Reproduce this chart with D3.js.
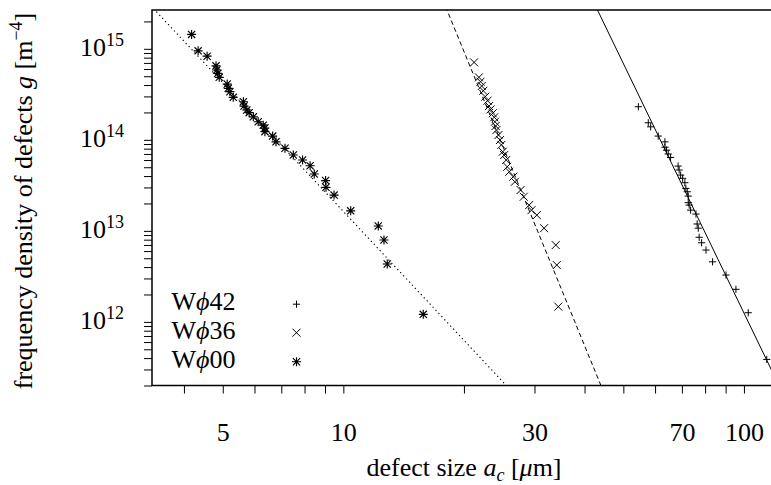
<!DOCTYPE html>
<html>
<head>
<meta charset="utf-8">
<script src="https://cdn.jsdelivr.net/npm/d3@7"></script>
<style>
  body { margin: 0; background: #fff; }
  svg text { font-family: "Liberation Serif", "Times New Roman", serif; fill: #000; }
</style>
</head>
<body>
<svg id="chart"></svg>
<script>
// measured points [defect size um, frequency density m^-4]
const w42 = [
  [54.5, 2.31e14], [57.7, 1.54e14], [58.5, 1.39e14], [61.1, 1.10e14], [63.5, 9.5e13],
  [63.5, 8.3e13], [64.1, 7.7e13], [64.7, 7.0e13], [65.6, 6.4e13], [68.5, 5.15e13],
  [68.9, 4.66e13], [69.5, 4.1e13], [70.3, 3.78e13], [71.2, 3.38e13], [71.6, 2.93e13],
  [72.2, 2.69e13], [72.6, 2.41e13], [72.6, 2.04e13], [73.0, 1.92e13], [73.6, 1.69e13],
  [75.9, 1.53e13], [76.4, 1.19e13], [76.9, 1.07e13], [77.3, 8.5e12], [78.4, 7.4e12],
  [80.4, 6.15e12], [83.5, 4.57e12], [90.2, 3.27e12], [95.5, 2.28e12], [102.5, 1.26e12],
  [114.0, 3.87e11]
];
const w36 = [
  [21.2, 7.1e14], [21.8, 4.86e14], [22.0, 4.35e14], [22.15, 3.9e14], [22.35, 3.46e14],
  [22.6, 2.98e14], [22.9, 2.69e14], [23.1, 2.35e14], [23.3, 2.16e14], [23.6, 1.96e14],
  [23.8, 1.77e14], [23.9, 1.58e14], [24.0, 1.42e14], [24.1, 1.28e14], [24.4, 1.13e14],
  [24.6, 9.95e13], [24.8, 8.8e13], [25.0, 7.4e13], [25.2, 6.8e13], [25.5, 6.0e13],
  [25.65, 5.06e13], [25.95, 4.46e13], [26.55, 3.93e13], [26.8, 3.46e13], [27.7, 2.81e13],
  [28.2, 2.37e13], [29.1, 1.92e13], [29.5, 1.69e13], [30.4, 1.49e13], [31.7, 1.07e13],
  [33.9, 6.98e12], [34.1, 4.21e12], [34.4, 1.47e12]
];
const w00 = [
  [4.18, 1.44e15], [4.34, 9.5e14], [4.57, 8.3e14], [4.81, 6.5e14], [4.83, 5.85e14],
  [4.86, 5.38e14], [4.90, 4.86e14], [5.13, 4.1e14], [5.16, 3.68e14], [5.21, 3.38e14],
  [5.31, 2.93e14], [5.63, 2.62e14], [5.65, 2.35e14], [5.74, 2.13e14], [5.82, 1.99e14],
  [5.96, 1.79e14], [6.13, 1.58e14], [6.31, 1.45e14], [6.37, 1.35e14], [6.37, 1.23e14],
  [6.66, 1.10e14], [6.79, 9.5e13], [7.15, 8.07e13], [7.50, 6.81e13], [7.91, 6.0e13],
  [8.26, 5.19e13], [8.46, 4.21e13], [9.03, 3.57e13], [9.05, 3.01e13], [9.48, 2.47e13],
  [10.43, 1.66e13], [12.22, 1.13e13], [12.63, 7.94e12], [12.87, 4.32e12], [15.83, 1.21e12]
];

// power-law fits, two end points each
const fit42 = [[42.5, 3.03e15], [120, 2.38e11]];
const fit36 = [[18.0, 2.9e15], [44.5, 1.75e11]];
const fit00 = [[3.3, 3.0e15], [26.0, 1.83e11]];

const xLabelled = [5, 10, 30, 70, 100];
const yExponents = [12, 13, 14, 15];
const legendNames = ["42", "36", "00"];

const width = 771, height = 485;
const plot = { left: 152, top: 10, bottom: 385.5, right: 772 };
const fontSize = 26;
const serif = "Liberation Serif, Times New Roman, serif";

const svg = d3.select("#chart")
    .attr("width", width)
    .attr("height", height)
    .attr("font-family", serif);

const x = d3.scaleLog().domain([3.329, 117.5]).range([plot.left, plot.right]);
const y = d3.scaleLog().domain([2.0e11, 2.67e15]).range([plot.bottom, plot.top]);

svg.append("defs").append("clipPath").attr("id", "clip")
    .append("rect")
    .attr("x", plot.left).attr("y", plot.top)
    .attr("width", plot.right - plot.left).attr("height", plot.bottom - plot.top);

// x axis
const xAxis = svg.append("g")
    .attr("transform", `translate(0,${plot.bottom})`)
    .call(d3.axisBottom(x)
        .tickValues(x.ticks())
        .tickSize(8)
        .tickPadding(29)
        .tickFormat(d => xLabelled.includes(Math.round(d)) ? String(Math.round(d)) : ""));
xAxis.attr("font-family", serif);
xAxis.select(".domain").remove();
xAxis.selectAll(".tick line").attr("stroke", "#000");
xAxis.selectAll(".tick text").attr("font-size", fontSize).attr("font-family", serif);

// y axis
const isMajor = d => {
    const e = Math.log10(d);
    return Math.abs(e - Math.round(e)) < 1e-6 && yExponents.includes(Math.round(e));
};
const yAxis = svg.append("g")
    .attr("transform", `translate(${plot.left},0)`)
    .call(d3.axisLeft(y)
        .tickValues(y.ticks())
        .tickSize(8)
        .tickPadding(20)
        .tickFormat(""));
yAxis.attr("font-family", serif);
yAxis.select(".domain").remove();
yAxis.selectAll(".tick line").attr("stroke", "#000");
yAxis.selectAll(".tick text")
    .attr("font-family", serif)
    .attr("font-size", fontSize)
    .attr("dy", "0.27em")
    .each(function (d) {
        if (!isMajor(d)) return;
        const t = d3.select(this);
        t.append("tspan").text("10");
        t.append("tspan").attr("dy", -10).attr("font-size", 18).text(Math.round(Math.log10(d)));
    });

// frame
svg.append("path")
    .attr("d", `M${plot.right + 2},${plot.top}H${plot.left}V${plot.bottom}H${plot.right + 2}`)
    .attr("fill", "none")
    .attr("stroke", "#000")
    .attr("stroke-width", 1.5);

// fit lines
const line = d3.line().x(d => x(d[0])).y(d => y(d[1]));
const fitG = svg.append("g").attr("clip-path", "url(#clip)");
fitG.append("path").datum(fit00).attr("d", line)
    .attr("fill", "none").attr("stroke", "#000").attr("stroke-width", 1.1)
    .attr("stroke-dasharray", "1.3,3");
fitG.append("path").datum(fit36).attr("d", line)
    .attr("fill", "none").attr("stroke", "#000").attr("stroke-width", 1)
    .attr("stroke-dasharray", "4.5,3");
fitG.append("path").datum(fit42).attr("d", line)
    .attr("fill", "none").attr("stroke", "#000").attr("stroke-width", 1);

// point symbols
function symbol(kind, s) {
    const plus = `M${-s},0H${s}M0,${-s}V${s}`;
    const cross = `M${-s},${-s}L${s},${s}M${-s},${s}L${s},${-s}`;
    if (kind === "plus") return plus;
    if (kind === "cross") return cross;
    const c = s * 0.8;
    return `M${-s},0H${s}M0,${-s}V${s}M${-c},${-c}L${c},${c}M${-c},${c}L${c},${-c}`;
}

const series = [
    { data: w42, kind: "plus", size: 3.6, sw: 1 },
    { data: w36, kind: "cross", size: 4, sw: 1 },
    { data: w00, kind: "star", size: 4.5, sw: 1.15 }
];

series.forEach(s => {
    svg.append("g").selectAll("path")
        .data(s.data)
        .enter().append("path")
        .attr("transform", d => `translate(${x(d[0])},${y(d[1])})`)
        .attr("d", symbol(s.kind, s.size))
        .attr("fill", "none")
        .attr("stroke", "#000")
        .attr("stroke-width", s.sw);
});

// legend
const legendRows = [310, 338.5, 367.5];
series.forEach((s, i) => {
    const t = svg.append("text")
        .attr("x", 171.5)
        .attr("y", legendRows[i])
        .attr("font-size", fontSize);
    t.append("tspan").text("W");
    t.append("tspan").attr("font-style", "italic").text("\u03D5");
    t.append("tspan").text(legendNames[i]);
    svg.append("path")
        .attr("transform", `translate(296.5,${legendRows[i] - 5.8})`)
        .attr("d", symbol(s.kind, s.size))
        .attr("fill", "none")
        .attr("stroke", "#000")
        .attr("stroke-width", s.sw);
});

// axis titles
const xTitle = svg.append("text")
    .attr("x", 464)
    .attr("y", 476)
    .attr("text-anchor", "middle")
    .attr("font-size", fontSize);
xTitle.append("tspan").text("defect size ");
xTitle.append("tspan").attr("font-style", "italic").text("a");
xTitle.append("tspan").attr("font-style", "italic").attr("font-size", 18).attr("dy", 5).text("c");
xTitle.append("tspan").attr("dy", -5).text(" [");
xTitle.append("tspan").attr("font-style", "italic").text("\u03BC");
xTitle.append("tspan").text("m]");

const yTitle = svg.append("text")
    .attr("transform", "translate(32,201) rotate(-90)")
    .attr("text-anchor", "middle")
    .attr("font-size", fontSize);
yTitle.append("tspan").text("frequency density of defects ");
yTitle.append("tspan").attr("font-style", "italic").text("g");
yTitle.append("tspan").text(" [m");
yTitle.append("tspan").attr("font-size", 18).attr("dy", -10).text("\u22124");
yTitle.append("tspan").attr("dy", 10).text("]");
</script>
</body>
</html>
